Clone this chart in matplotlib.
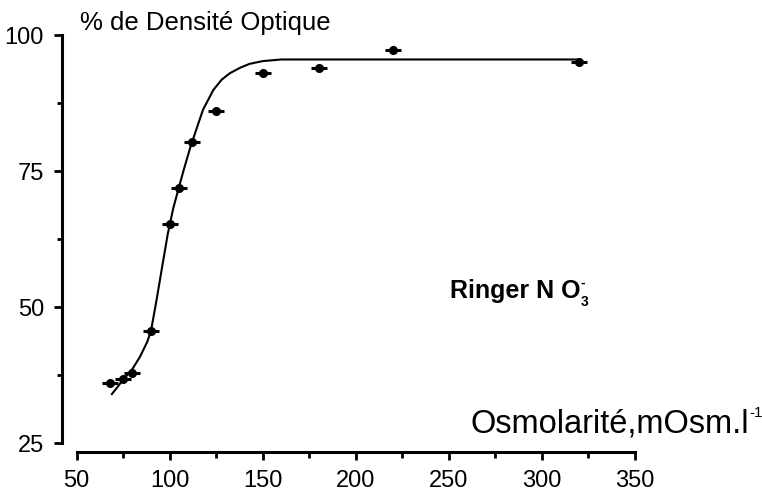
import numpy as np
import matplotlib
matplotlib.use("Agg")
import matplotlib.pyplot as plt
from matplotlib.ticker import MultipleLocator

plt.rcParams['font.family'] = ['Liberation Sans', 'DejaVu Sans']

# points mesurés (osmolarité, % densité optique)
osm = [68, 75, 80, 90, 100, 105, 112, 125, 150, 180, 220, 320]
do_pct = [36.0, 36.8, 37.9, 45.6, 65.3, 71.9, 80.3, 86.1, 93.0, 93.9, 97.2, 95.1]

# courbe d'ajustement
fit_x = [69, 75, 80, 84, 88, 90, 93, 96.5, 99, 102, 105, 107.5, 111, 115.5, 118,
         123.5, 128, 132.5, 138, 143, 150, 160, 200, 250, 320]
fit_y = [34.0, 36.6, 38.6, 40.8, 43.6, 45.6, 51.3, 58.4, 63.4, 68.2, 72.0, 75.1,
         79.2, 83.8, 86.3, 89.9, 91.8, 93.0, 94.0, 94.7, 95.2, 95.5, 95.5, 95.5, 95.5]

x_ticks = [50, 100, 150, 200, 250, 300, 350]
y_ticks = [25, 50, 75, 100]

fig = plt.figure(figsize=(7.62, 4.95), dpi=100)
ax = fig.add_axes([62 / 762, 1 - 451.5 / 495, (635 - 62) / 762, (451.5 - 35) / 495])

ax.plot(fit_x, fit_y, color='black', lw=1.5, clip_on=False)
ax.plot(osm, do_pct, ls='none', marker='_', ms=11, mew=2.2, color='black', clip_on=False)
ax.plot(osm, do_pct, ls='none', marker='o', ms=5.5, color='black', clip_on=False)

ax.set_xlim(42.2, 350)
ax.set_ylim(23.44, 100)
ax.set_xticks(x_ticks)
ax.set_yticks(y_ticks)
ax.xaxis.set_minor_locator(MultipleLocator(25))
ax.yaxis.set_minor_locator(MultipleLocator(12.5))

for side in ['top', 'right']:
    ax.spines[side].set_visible(False)
ax.spines['left'].set_bounds(25, 100)
ax.spines['bottom'].set_bounds(50, 350)
for side in ['left', 'bottom']:
    ax.spines[side].set_linewidth(2.2)

ax.tick_params(which='major', length=6, width=2.0, labelsize=17, pad=7)
ax.tick_params(which='minor', length=3.5, width=2.0)
ax.tick_params(axis='x', which='minor', length=4.5)

fig.text(80 / 762, 1 - 23 / 495, '% de Densité Optique', fontsize=18.5, va='center', ha='left')

osm_lbl = fig.text(749 / 762, 1 - 424 / 495, 'Osmolarité,mOsm.l', fontsize=23.5,
                   va='center', ha='right')
ax.annotate('-1', xy=(1, 0.85), xycoords=osm_lbl, fontsize=11, va='center', ha='left')

ringer = fig.text(450 / 762, 1 - 298 / 495, 'Ringer N O', fontsize=18, fontweight='bold',
                  va='baseline', ha='left')
ax.annotate('3', xy=(1, 0.05), xycoords=ringer, fontsize=10, fontweight='bold',
            va='center', ha='left')
ax.annotate('-', xy=(1, 0.85), xycoords=ringer, fontsize=10, fontweight='bold',
            va='center', ha='left')

fig.savefig('out.png', dpi=100)
